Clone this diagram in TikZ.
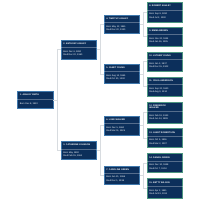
\documentclass[tikz,border=0pt]{standalone}
\usepackage{fontspec}
\setmainfont{Liberation Sans}
\usetikzlibrary{calc}
\definecolor{navy}{HTML}{0C2F5B}
\definecolor{blueedge}{HTML}{3F78AC}
\definecolor{greenedge}{HTML}{4C9680}
\definecolor{connc}{HTML}{D8DCE0}
\tikzset{
  pbox/.style={draw, fill=navy, line width=0.45pt, minimum width=35.4pt, inner sep=0pt, rectangle},
  bluebox/.style={pbox, draw=blueedge},
  greenbox/.style={pbox, draw=greenedge},
  divline/.style={draw=white, opacity=0.3, line width=0.4pt},
  nametext/.style={text=white, inner sep=0pt, anchor=west, align=left, font=\bfseries\fontsize{2.2}{2.9}\selectfont},
  datetext/.style={text=white, inner sep=0pt, anchor=west, align=left, font=\fontsize{2.3}{3.2}\selectfont},
  conn/.style={draw=connc, line width=0.5pt}
}
\newcommand{\person}[8]{%
  \node[#6, minimum height=#4pt, anchor=north west] (#1) at (#2,#3) {};
  \draw[divline] ($(#1.north west)+(0,#5)$) -- ($(#1.north east)+(0,#5)$);
  \node[nametext] (#1n) at ($(#1.north west)+(2.4,{#5/2})$) {#7};
  \node[datetext] (#1d) at ($(#1.north west)+(2.4,{(#5+#4)/2})$) {#8};
}
\begin{document}
\begin{tikzpicture}[x=1pt,y=-1pt]
\fill[white] (0,0) rectangle (200,200);
\useasboundingbox (0,0) rectangle (200,200);
\person{p1}{17.3}{91}{17.3}{8.3}{bluebox}{1. ASHLEY SMITH}{Born Dec 8, 1920}
\person{p2}{60.7}{40}{18.7}{7.7}{bluebox}{2. ANTHONY ASHLEY}{Born Dec 6, 1890\\Died Dec 22, 1960}
\person{p3}{60.7}{141}{18.3}{7.7}{bluebox}{3. CATHERINE JOHNSON}{Born May 1892\\Died Feb 15, 1961}
\person{p4}{103.7}{15}{18.3}{7.7}{bluebox}{4. TIMOTHY ASHLEY}{Born May 12, 1861\\Died Dec 20, 1930}
\person{p5}{103.7}{64.3}{19}{7.4}{bluebox}{5. JANET YOUNG}{Born Aug 14, 1865\\Died Oct 30, 1932}
\person{p6}{103.7}{115.7}{19.3}{7.6}{bluebox}{6. LUKE WALKER}{Born Dec 5, 1860\\Died Mar 11, 1925}
\person{p7}{103.7}{165.7}{18.6}{7.6}{bluebox}{7. CAROLINE GREEN}{Born Jun 21, 1866\\Died Dec 1, 1938}
\person{p8}{146.7}{1.7}{20}{8.3}{greenbox}{8. ROBERT ASHLEY}{Born Sep 8, 1830\\Died Jul 2, 1900}
\person{p9}{146.7}{26.7}{19.3}{7.9}{greenbox}{9. EMMA BROWN}{Born Nov 20, 1834\\Died Jan 26, 1905}
\person{p10}{146.7}{51.7}{19.3}{7.9}{greenbox}{10. LUTHER YOUNG}{Born Jan 3, 1837\\Died Dec 15, 1902}
\person{p11}{146.7}{76.7}{19.3}{7.9}{greenbox}{11. CELIA ANDERSON}{Born Sep 20, 1840\\Died Aug 9, 1910}
\person{p12}{146.7}{101.7}{21}{10}{greenbox}{12. FREDERICK\\WALKER}{Born Feb 19, 1833\\Died Jun 14, 1899}
\person{p13}{146.7}{128.3}{19}{7.9}{greenbox}{13. JANET ROBERTSON}{Born Oct 5, 1836\\Died Mar 2, 1907}
\person{p14}{146.7}{153.3}{19}{7.9}{greenbox}{14. DANIEL GREEN}{Born Dec 30, 1838\\Died Oct 7, 1904}
\person{p15}{146.7}{178.3}{19.4}{7.9}{greenbox}{15. BETTY WILSON}{Born Apr 2, 1841\\Died Jul 19, 1911}
\foreach \pa/\ch in {p1/p2,p1/p3,p2/p4,p2/p5,p3/p6,p3/p7,p4/p8,p4/p9,p5/p10,p5/p11,p6/p12,p6/p13,p7/p14,p7/p15}{
  \draw[conn] (\pa.east) -- ++(4,0) |- (\ch.west);
}
\end{tikzpicture}
\end{document}
